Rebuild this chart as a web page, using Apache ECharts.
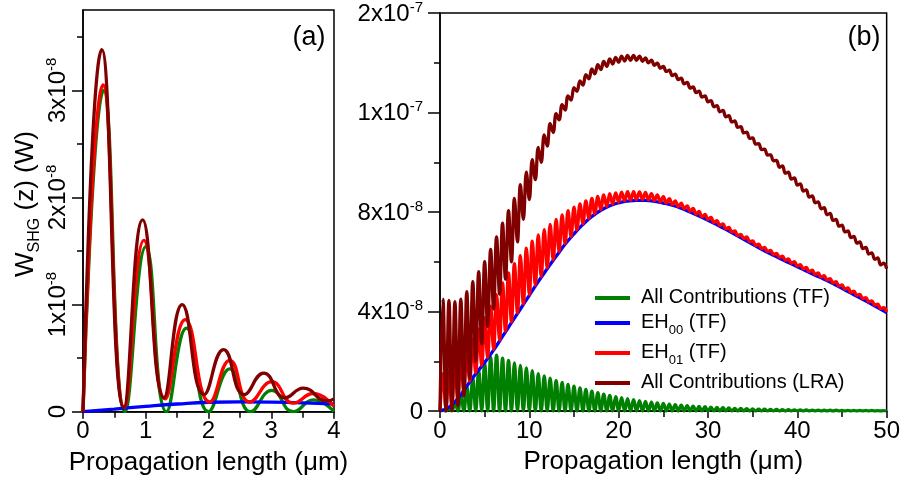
<!DOCTYPE html>
<html><head><meta charset="utf-8">
<script src="https://cdn.jsdelivr.net/npm/echarts@6/dist/echarts.min.js"></script>
<style>html,body{margin:0;padding:0;background:#fff}#c{width:903px;height:484px}</style>
</head><body><div id="c"></div>
<script>
const FONT = '"Liberation Sans", Arial, Helvetica, sans-serif';

// ---------- Names / colours ----------
const seriesNames = ['All Contributions (TF)', 'EH00 (TF)', 'EH01 (TF)', 'All Contributions (LRA)'];
const legendLabels = ['All Contributions (TF)', 'EH_00 (TF)', 'EH_01 (TF)', 'All Contributions (LRA)'];
const seriesColors = ['#008000', '#0000ff', '#ff0000', '#800000'];

// ---------- Panel (a): values in units of 1e-8 W ----------
const aGreenX = [0, 0.33, 0.67, 1.0, 1.33, 1.65, 2.0, 2.34, 2.67, 3.01, 3.35, 3.67, 4.0];
const aGreenY = [0, 3.0, 0, 1.54, 0, 0.78, 0, 0.40, 0, 0.20, 0, 0.11, 0];
const aBlueX = [0, 0.5, 1, 1.5, 2, 2.5, 3, 3.5, 4];
const aBlueY = [0, 0.025, 0.05, 0.072, 0.088, 0.092, 0.09, 0.083, 0.07];
const aRedX = [0, 0.32, 0.66, 0.97, 1.31, 1.63, 2.02, 2.34, 2.66, 3.01, 3.35, 3.67, 4.0];
const aRedY = [0, 3.05, 0.04, 1.6, 0.12, 0.86, 0.09, 0.48, 0.09, 0.28, 0.08, 0.17, 0.05];
const aLraX = [0, 0.30, 0.65, 0.95, 1.29, 1.58, 1.93, 2.24, 2.57, 2.88, 3.22, 3.51, 3.89, 4.0];
const aLraY = [0, 3.38, 0.04, 1.79, 0.13, 1.0, 0.16, 0.58, 0.16, 0.36, 0.13, 0.22, 0.1, 0.12];
const aYTickValues = [0, 1, 2, 3];
const aYTickLabels = ['0', '1x10^-8', '2x10^-8', '3x10^-8'];

// ---------- Panel (b): values in units of 1e-8 W ----------
const bX = [0,0.33,0.67,1,1.33,1.67,2,2.33,2.67,3,3.33,3.67,4,4.33,4.67,5,5.33,5.67,6,6.33,6.67,7,7.33,7.67,8,8.33,8.67,9,9.33,9.67,10,10.33,10.67,11,11.33,11.67,12,12.33,12.67,13,13.33,13.67,14,14.33,14.67,15,15.33,15.67,16,16.33,16.67,17,17.33,17.67,18,18.33,18.67,19,19.33,19.67,20,20.33,20.67,21,21.33,21.67,22,22.33,22.67,23,23.33,23.67,24,24.33,24.67,25,25.33,25.67,26,26.33,26.67,27,27.33,27.67,28,28.33,28.67,29,29.33,29.67,30,30.33,30.67,31,31.33,31.67,32,32.33,32.67,33,33.33,33.67,34,34.33,34.67,35,35.33,35.67,36,36.33,36.67,37,37.33,37.67,38,38.33,38.67,39,39.33,39.67,40,40.33,40.67,41,41.33,41.67,42,42.33,42.67,43,43.33,43.67,44,44.33,44.67,45,45.33,45.67,46,46.33,46.67,47,47.33,47.67,48,48.33,48.67,49,49.33,49.67,50];
const bGreen = [
0,0.03,0,0.15,0,0.35, 0,0.65,0,1.0,0,1.33, 0,1.65,0,1.95,0,2.15, 0,2.25,0,2.12,0,2.03,
0,1.93,0,1.83,0,1.73, 0,1.62,0,1.5,0,1.41, 0,1.32,0,1.23,0,1.15, 0,1.07,0,1.0,0,0.93,
0,0.87,0,0.8,0,0.74, 0,0.68,0,0.63,0,0.58, 0,0.54,0,0.5,0,0.46, 0,0.42,0,0.39,0,0.36,
0,0.33,0,0.31,0,0.28, 0,0.26,0,0.24,0,0.22, 0,0.2,0,0.18,0,0.17, 0,0.15,0,0.14,0,0.13,
0,0.12,0,0.1,0,0.1, 0,0.09,0,0.08,0,0.075, 0,0.07,0,0.06,0,0.06, 0,0.05,0,0.05,0,0.045,
0,0.04,0,0.04,0,0.035, 0,0.035,0,0.03,0,0.03, 0,0.03,0,0.025,0,0.025, 0,0.02,0,0.02,0,0.02,
0,0.02,0,0.015,0,0.015, 0];
const bBlueX = [0,1,2,3,4,5,6,7,8,9,10,11,12,13,14,15,16,17,18,19,20,21,22,23,24,25,26,27,28,29,30,31,32,33,34,35,36,37,38,39,40,41,42,43,44,45,46,47,48,49,50];
const bBlue = [0,0.15,0.5,1.0,1.5,1.95,2.45,3.0,3.55,4.1,4.65,5.2,5.72,6.22,6.7,7.12,7.5,7.82,8.07,8.25,8.37,8.44,8.47,8.47,8.43,8.36,8.27,8.15,8.0,7.84,7.67,7.49,7.3,7.1,6.9,6.7,6.5,6.32,6.14,5.97,5.8,5.63,5.46,5.3,5.12,4.93,4.74,4.55,4.36,4.16,3.96];
const bRed = [
0,1.5,0.11,1.6,0.28,1.8, 0.53,2.1,0.86,2.5,1.2,2.9, 1.53,3.3,1.83,3.75,2.15,4.22, 2.48,4.68,2.85,5.15,3.21,5.55,
3.58,5.92,3.95,6.25,4.31,6.55, 4.68,6.83,5.05,7.08,5.4,7.29, 5.75,7.5,6.08,7.7,6.41,7.88, 6.73,8.05,7.01,8.2,7.28,8.33,
7.53,8.45,7.74,8.55,7.93,8.63, 8.1,8.69,8.22,8.74,8.32,8.77, 8.4,8.8,8.45,8.82,8.48,8.82, 8.5,8.81,8.5,8.79,8.49,8.74,
8.46,8.69,8.41,8.62,8.36,8.54, 8.3,8.45,8.22,8.36,8.13,8.25, 8.03,8.14,7.92,8.02,7.81,7.9, 7.7,7.78,7.58,7.65,7.46,7.52,
7.33,7.38,7.2,7.24,7.06,7.1, 6.93,7.0,6.8,6.84,6.66,6.71, 6.53,6.58,6.41,6.46,6.29,6.34, 6.17,6.23,6.06,6.11,5.94,6.0,
5.83,5.88,5.72,5.77,5.6,5.66, 5.49,5.55,5.38,5.44,5.27,5.32, 5.15,5.2,5.03,5.07,4.9,4.95, 4.77,4.82,4.65,4.69,4.52,4.56,
4.39,4.43,4.26,4.3,4.12,4.15, 3.99];
const bLra = [
0,4.5,0,4.45,0.02,4.4, 0.2,4.5,0.6,4.8,1.3,5.2, 2.0,5.6,2.7,6.0,3.4,6.5, 4.1,7.0,4.7,7.55,5.3,8.05,
6.0,8.55,6.8,9.1,7.7,9.6, 8.5,10.1,9.3,10.6,10.0,11.1, 10.65,11.55,11.2,11.95,11.7,12.32, 12.1,12.67,12.5,13.0,12.85,13.27,
13.1,13.52,13.35,13.75,13.55,13.92, 13.72,14.05,13.85,14.15,13.95,14.22, 14.02,14.27,14.07,14.3,14.1,14.3, 14.1,14.27,14.06,14.2,14.0,14.1,
13.9,13.98,13.78,13.85,13.65,13.7, 13.48,13.54,13.32,13.38,13.15,13.21, 12.98,13.03,12.8,12.86,12.62,12.67, 12.43,12.48,12.23,12.28,12.03,12.08,
11.83,11.87,11.62,11.66,11.4,11.43, 11.18,11.21,10.96,10.98,10.73,10.75, 10.51,10.53,10.29,10.3,10.06,10.07, 9.8,9.85,9.56,9.6,9.32,9.37,
9.08,9.13,8.84,8.89,8.6,8.65, 8.37,8.41,8.13,8.17,7.89,7.94, 7.66,7.7,7.43,7.47,7.2,7.24, 6.97,7.02,6.75,6.8,6.53,6.58,
6.31,6.36,6.1,6.15,5.88,5.94, 5.72];
const bYTickValues = [0, 4, 8, 12, 16];
const bYTickLabels = ['0', '4x10^-8', '8x10^-8', '1x10^-7', '2x10^-7'];

// ---------- helpers ----------
function pairs(xs, ys) { return xs.map((x, i) => [x, ys[i]]); }
function supText(s) {
  const i = s.indexOf('^');
  if (i < 0) return '{b|' + s + '}';
  return '{b|' + s.slice(0, i) + '}{sup|' + s.slice(i + 1) + '}';
}
function subText(s) {
  const m = s.match(/^(.*?)_(\d+)(.*)$/);
  if (!m) return '{t|' + s + '}';
  return '{t|' + m[1] + '}{sub|' + m[2] + '}{t|' + m[3] + '}';
}
const tickRich = {
  b: { fontSize: 24, fontFamily: FONT, color: '#000', lineHeight: 26, verticalAlign: 'bottom' },
  sup: { fontSize: 15, fontFamily: FONT, color: '#000', lineHeight: 15, verticalAlign: 'top', padding: [0, 0, 14, 0] }
};
function labelFor(values, labels) {
  return function (v) {
    for (let i = 0; i < values.length; i++) if (Math.abs(values[i] - v) < 1e-9) return supText(labels[i]);
    return '';
  };
}

const chart = echarts.init(document.getElementById('c'), null, { renderer: 'canvas' });

const axisLineStyle = { color: '#000', width: 1.5 };
const tickLine = { color: '#000', width: 1.5 };
const xLabel = { fontSize: 24, fontFamily: FONT, color: '#000', margin: 8 };
const nameStyle = { fontSize: 26, fontFamily: FONT, color: '#000' };
const LW = 3.3;

// panel (a) plot box: y from 411.7 (value 0) to 10 (value 3.75)
const aBottom = 411.7, aTop = 10, aMax = 3.75;
const aPx = (aBottom - aTop) / aMax;
const aMajorMax = 3, aMinorMax = 3.5;

function mkSeries(idx, data, xi, yi, smooth) {
  return {
    type: 'line', name: seriesNames[idx], data: data, xAxisIndex: xi, yAxisIndex: yi,
    showSymbol: false, symbol: 'none', smooth: smooth, z: 2 + idx,
    lineStyle: { color: seriesColors[idx], width: LW }, itemStyle: { color: seriesColors[idx] },
    emphasis: { disabled: true }, silent: true
  };
}

const option = {
  animation: false,
  backgroundColor: '#fff',
  grid: [
    { left: 83, top: aTop, width: 251, height: aBottom - aTop, show: true, borderColor: '#000', borderWidth: 1.5, backgroundColor: 'transparent' },
    { left: 440, top: 10, width: 447, height: 401, show: true, borderColor: '#000', borderWidth: 1.5, backgroundColor: 'transparent' },
    // tick carriers for panel (a), same vertical scale as grid 0
    { left: 83, top: aBottom - aPx * aMajorMax, width: 251, height: aPx * aMajorMax, show: false },
    { left: 83, top: aBottom - aPx * aMinorMax, width: 251, height: aPx * aMinorMax, show: false }
  ],
  xAxis: [
    { type: 'value', gridIndex: 0, min: 0, max: 4, interval: 1,
      axisLine: { show: true, lineStyle: axisLineStyle },
      axisTick: { show: true, length: 7, lineStyle: tickLine },
      minorTick: { show: true, splitNumber: 2, length: 6, lineStyle: tickLine },
      splitLine: { show: false }, axisLabel: xLabel,
      name: 'Propagation length (\u03bcm)', nameLocation: 'middle', nameGap: 38, nameTextStyle: nameStyle },
    { type: 'value', gridIndex: 1, min: 0, max: 50, interval: 10,
      axisLine: { show: true, lineStyle: axisLineStyle },
      axisTick: { show: true, length: 7, lineStyle: tickLine },
      minorTick: { show: true, splitNumber: 2, length: 6, lineStyle: tickLine },
      splitLine: { show: false }, axisLabel: xLabel,
      name: 'Propagation length (\u03bcm)', nameLocation: 'middle', nameGap: 38, nameTextStyle: nameStyle },
    { type: 'value', gridIndex: 2, min: 0, max: 4, show: false },
    { type: 'value', gridIndex: 3, min: 0, max: 4, show: false }
  ],
  yAxis: [
    { type: 'value', gridIndex: 0, position: 'left', min: 0, max: aMax,
      axisLine: { show: true, lineStyle: axisLineStyle },
      axisTick: { show: false }, splitLine: { show: false }, axisLabel: { show: false } },
    { type: 'value', gridIndex: 2, position: 'left', min: 0, max: aMajorMax, interval: 1,
      axisLine: { show: false },
      axisTick: { show: true, length: 11, lineStyle: tickLine },
      splitLine: { show: false },
      axisLabel: { rotate: 90, margin: 13, formatter: labelFor(aYTickValues, aYTickLabels), rich: tickRich } },
    { type: 'value', gridIndex: 1, position: 'left', min: 0, max: 16, interval: 4,
      axisLine: { show: true, lineStyle: axisLineStyle },
      axisTick: { show: true, length: 12, lineStyle: tickLine },
      minorTick: { show: true, splitNumber: 2, length: 6, lineStyle: tickLine },
      splitLine: { show: false },
      axisLabel: { margin: 17, formatter: labelFor(bYTickValues, bYTickLabels), rich: tickRich } },
    { type: 'value', gridIndex: 3, position: 'left', min: 0, max: aMinorMax, interval: 0.5,
      axisLine: { show: false },
      axisTick: { show: true, length: 6, lineStyle: tickLine },
      splitLine: { show: false }, axisLabel: { show: false } }
  ],
  legend: {
    show: true, orient: 'vertical', left: 590, top: 282, itemGap: 5,
    itemWidth: 35, itemHeight: 4, icon: 'rect', selectedMode: false,
    data: seriesNames.map((n, i) => ({ name: n, itemStyle: { color: seriesColors[i] } })),
    formatter: function (name) { return subText(legendLabels[seriesNames.indexOf(name)]); },
    textStyle: {
      padding: [0, 0, 0, 6],
      rich: {
        t: { fontSize: 20, fontFamily: FONT, color: '#000', lineHeight: 22, verticalAlign: 'top' },
        sub: { fontSize: 13, fontFamily: FONT, color: '#000', lineHeight: 14, verticalAlign: 'top', padding: [12, 0, 0, 0] }
      }
    }
  },
  graphic: [
    { type: 'text', x: 309, y: 38, silent: true,
      style: { text: '(a)', font: '27px ' + FONT, fill: '#000', align: 'center', verticalAlign: 'middle', textAlign: 'center', textVerticalAlign: 'middle' } },
    { type: 'text', x: 864, y: 38, silent: true,
      style: { text: '(b)', font: '27px ' + FONT, fill: '#000', align: 'center', verticalAlign: 'middle', textAlign: 'center', textVerticalAlign: 'middle' } },
    { type: 'text', x: 27, y: 204, rotation: Math.PI / 2, silent: true,
      style: { text: '{t|W}{s|SHG}{t| (z) (W)}', align: 'center', verticalAlign: 'middle', textAlign: 'center', textVerticalAlign: 'middle',
        rich: {
          t: { fontSize: 26, fontFamily: FONT, fill: '#000', color: '#000', lineHeight: 28, verticalAlign: 'top' },
          s: { fontSize: 16, fontFamily: FONT, fill: '#000', color: '#000', lineHeight: 16, verticalAlign: 'top', padding: [14, 0, 0, 0] }
        } } }
  ],
  series: [
    mkSeries(0, pairs(aGreenX, aGreenY), 0, 0, true),
    mkSeries(1, pairs(aBlueX, aBlueY), 0, 0, true),
    mkSeries(2, pairs(aRedX, aRedY), 0, 0, true),
    mkSeries(3, pairs(aLraX, aLraY), 0, 0, true),
    mkSeries(0, pairs(bX, bGreen), 1, 2, 0.4),
    mkSeries(1, pairs(bBlueX, bBlue), 1, 2, true),
    mkSeries(2, pairs(bX, bRed), 1, 2, 0.4),
    mkSeries(3, pairs(bX, bLra), 1, 2, 0.4)
  ]
};
chart.setOption(option);
</script>
</body></html>
